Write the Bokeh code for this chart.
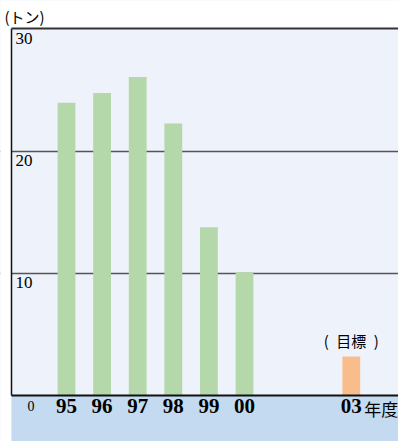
from bokeh.plotting import figure
from bokeh.models import BoxAnnotation, FixedTicker, Range1d, ColumnDataSource
from bokeh.core.properties import value
from bokeh.embed import file_html
from bokeh.resources import INLINE

# Annual amounts (tons) by fiscal year, plus the target year
fiscal_years = [1995, 1996, 1997, 1998, 1999, 2000]
amounts = [24.0, 24.8, 26.1, 22.3, 13.8, 10.1]
target_year = 2003
target_amount = 3.2
target_note = "(\u2002目標\u2002)"
y_ticks = [10, 20, 30]
unit_label = "(トン)"
year_suffix = "年度"
origin_label = "0"

base_year = fiscal_years[0]
W, H = 398, 441
px_per_year = 35.6
px_per_ton = 12.2
first_bar_px = 66      # horizontal pixel of the first bar centre
plot_left_px = 11      # left edge of the chart box
top_tick_px = 29       # vertical pixel of the top tick value

# the frame covers the whole canvas; the chart box is drawn inside it
x_start = -first_bar_px / px_per_year
x_end = x_start + W / px_per_year
y_end = max(y_ticks) + top_tick_px / px_per_ton
y_start = y_end - H / px_per_ton
box_left = x_start + plot_left_px / px_per_year
box_top = max(y_ticks) + 1 / px_per_ton

p = figure(width=W, height=H, output_backend="svg", toolbar_location=None,
           x_range=Range1d(x_start, x_end), y_range=Range1d(y_start, y_end),
           min_border=0)
p.axis.visible = False
p.xgrid.visible = False
p.ygrid.ticker = FixedTicker(ticks=[t for t in y_ticks if t < max(y_ticks)])
p.ygrid.grid_line_color = "#555555"
p.ygrid.grid_line_width = 1.6
p.outline_line_color = None
p.background_fill_color = "#eef3fb"
p.border_fill_color = "white"

# white margins around the chart box, and the band under the baseline
p.add_layout(BoxAnnotation(bottom=box_top, fill_color="white", fill_alpha=1,
                           line_color=None, level="underlay"))
p.add_layout(BoxAnnotation(right=box_left, fill_color="white", fill_alpha=1,
                           line_color=None, level="underlay"))
p.add_layout(BoxAnnotation(top=0, left=box_left, fill_color="#c3daf0", fill_alpha=1,
                           line_color=None, level="underlay"))

xs = [y - base_year for y in fiscal_years]
src = ColumnDataSource(dict(x=xs, top=amounts,
                            label=[f"{y % 100:02d}" for y in fiscal_years]))
p.vbar(x="x", top="top", width=0.5, source=src, fill_color="#b5d8aa", line_color=None)

tx = target_year - base_year
tsrc = ColumnDataSource(dict(x=[tx], top=[target_amount],
                             label=[f"{target_year % 100:02d}"], note=[target_note]))
p.vbar(x="x", top="top", width=0.5, source=tsrc, fill_color="#f8bd8b", line_color=None)

# chart box border: bottom, left, top
p.segment(x0=[box_left], y0=[0], x1=[x_end], y1=[0], line_color="#111111", line_width=2)
p.segment(x0=[box_left], y0=[0], x1=[box_left], y1=[box_top], line_color="#111111", line_width=1.5)
p.segment(x0=[box_left], y0=[box_top], x1=[x_end], y1=[box_top], line_color="#333333", line_width=2)

serif = value("Liberation Serif")
sans = value("Noto Sans CJK JP")

# year labels under the bars
for s in (src, tsrc):
    p.text(x="x", y=0, text="label", source=s, text_font=serif, text_font_style="bold",
           text_font_size="21px", text_align="center", text_baseline="top",
           y_offset=3, text_color="black")
p.text(x=[tx], y=[0], text=[year_suffix], text_font=sans, text_font_size="17px",
       text_align="left", text_baseline="top", x_offset=13, y_offset=0, text_color="black")
p.text(x=[-1], y=[0], text=[origin_label], text_font=serif, text_font_size="14px",
       text_align="center", text_baseline="top", y_offset=5, text_color="black")

# note above the target bar
p.text(x="x", y="top", text="note", source=tsrc, text_font=sans, text_font_size="15px",
       text_align="center", text_baseline="bottom", y_offset=-5, text_color="black")

# value scale written inside the chart box
p.text(x=[box_left] * len(y_ticks), y=y_ticks, text=[str(t) for t in y_ticks],
       text_font=serif, text_font_size="17px", text_align="left", text_baseline="top",
       x_offset=4, y_offset=3, text_color="black")

# unit above the chart box
p.text(x=[box_left] * 1, y=[box_top], text=[unit_label], text_font=sans,
       text_font_size="15px", text_align="left", text_baseline="bottom",
       x_offset=-7, y_offset=-2, text_color="black")

open("out.html", "w").write(file_html(p, INLINE))
